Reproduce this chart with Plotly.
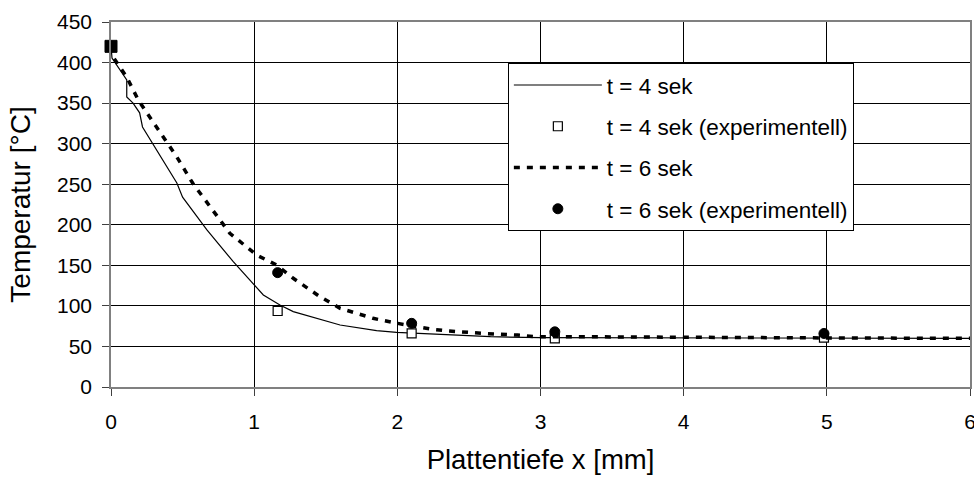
import plotly.graph_objects as go

# t = 4 sek (simulation)
x_t4 = [0.0, 0.007, 0.11, 0.11, 0.154, 0.2, 0.22, 0.29, 0.46, 0.50, 0.62, 0.67, 0.854, 1.0, 1.064,
        1.18, 1.273, 1.6, 1.855, 1.995, 2.65, 3.0, 4.0, 5.0, 6.0]
T_t4 = [420, 405.6, 378.5, 357.5, 350, 338, 320.6, 300.8, 251.5, 234, 206, 193.6, 154.5, 125.7, 113.4,
        101, 92.9, 76.4, 69.4, 67.4, 62, 60.8, 60.5, 60.3, 60]

# t = 6 sek (simulation)
x_t6 = [0.0, 0.014, 0.11, 0.19, 0.285, 0.46, 0.57, 0.76, 0.83, 1.017, 1.157, 1.273, 1.46, 1.6,
        1.83, 2.0, 2.23, 2.34, 2.6, 2.84, 2.97, 3.25, 4.0, 5.0, 6.0]
T_t6 = [420, 407, 382, 354, 329, 283.6, 251.5, 206, 189.5, 162.7, 150.4, 134, 111.3, 97,
        84.7, 78.5, 71.5, 69.4, 66, 64, 62, 62, 61, 60.5, 60]

# experimental values
x_exp4 = [1.164, 2.1, 3.1, 4.98]
T_exp4 = [93.7, 66.2, 60, 60.8]
x_exp4_start = [0.0]
T_exp4_start = [420]
x_exp6 = [1.164, 2.1, 3.1, 4.98]
T_exp6 = [141, 78.5, 68, 66]

x_ticks = [0, 1, 2, 3, 4, 5, 6]
y_ticks = [0, 50, 100, 150, 200, 250, 300, 350, 400, 450]

FONT = "Liberation Sans, Arial, sans-serif"

fig = go.Figure()
fig.add_trace(go.Scatter(x=x_t4, y=T_t4, mode="lines", name="t = 4 sek",
                         line=dict(color="black", width=1.2), legendgroup="a"))
fig.add_trace(go.Scatter(x=x_exp4, y=T_exp4, mode="markers", name="t = 4 sek (experimentell)",
                         marker=dict(symbol="square", size=9, color="white",
                                     line=dict(color="black", width=1.2)),
                         legendgroup="b", cliponaxis=False))
fig.add_trace(go.Scatter(x=x_t6, y=T_t6, mode="lines", name="t = 6 sek",
                         line=dict(color="black", width=3.5, dash="6px,7px"), legendgroup="c"))
fig.add_trace(go.Scatter(x=x_exp6, y=T_exp6, mode="markers", name="t = 6 sek (experimentell)",
                         marker=dict(symbol="circle", size=10, color="black",
                                     line=dict(color="black", width=1)),
                         legendgroup="d", cliponaxis=False))
fig.add_trace(go.Scatter(x=x_exp4_start, y=T_exp4_start, mode="markers", showlegend=False,
                         marker=dict(symbol="square", size=12, color="black",
                                     line=dict(color="black", width=1)),
                         legendgroup="b", cliponaxis=False))

fig.update_layout(
    width=974, height=477,
    margin=dict(l=111, r=4, t=22, b=90, autoexpand=False),
    paper_bgcolor="white", plot_bgcolor="white",
    font=dict(family=FONT, size=21, color="black"),
    showlegend=True,
    legend=dict(x=0.462, y=0.888, xanchor="left", yanchor="top",
                bgcolor="white", bordercolor="black", borderwidth=1,
                font=dict(size=22.5, family=FONT), tracegroupgap=9,
                itemwidth=88, entrywidth=380, entrywidthmode="pixels"),
    xaxis=dict(range=[0, 6], tickvals=x_ticks, ticktext=[str(v) for v in x_ticks],
               showgrid=True, gridcolor="black", gridwidth=1,
               showline=True, linecolor="#808080", linewidth=1.5, mirror=True,
               ticks="outside", ticklen=7, tickcolor="#404040", ticklabelstandoff=8,
               ticklabeloverflow="allow",
               zeroline=False, automargin=False,
               title=dict(text="Plattentiefe x [mm]", font=dict(size=27.5, family=FONT), standoff=18)),
    yaxis=dict(range=[0, 450], tickvals=y_ticks, ticktext=[str(v) for v in y_ticks],
               showgrid=True, gridcolor="black", gridwidth=1,
               showline=True, linecolor="#808080", linewidth=1.5, mirror=True,
               ticks="outside", ticklen=7, tickcolor="#404040", ticklabelstandoff=6,
               zeroline=False, automargin=False,
               title=dict(text="Temperatur [°C]", font=dict(size=28, family=FONT), standoff=18)),
)

fig.write_html("out.html")
